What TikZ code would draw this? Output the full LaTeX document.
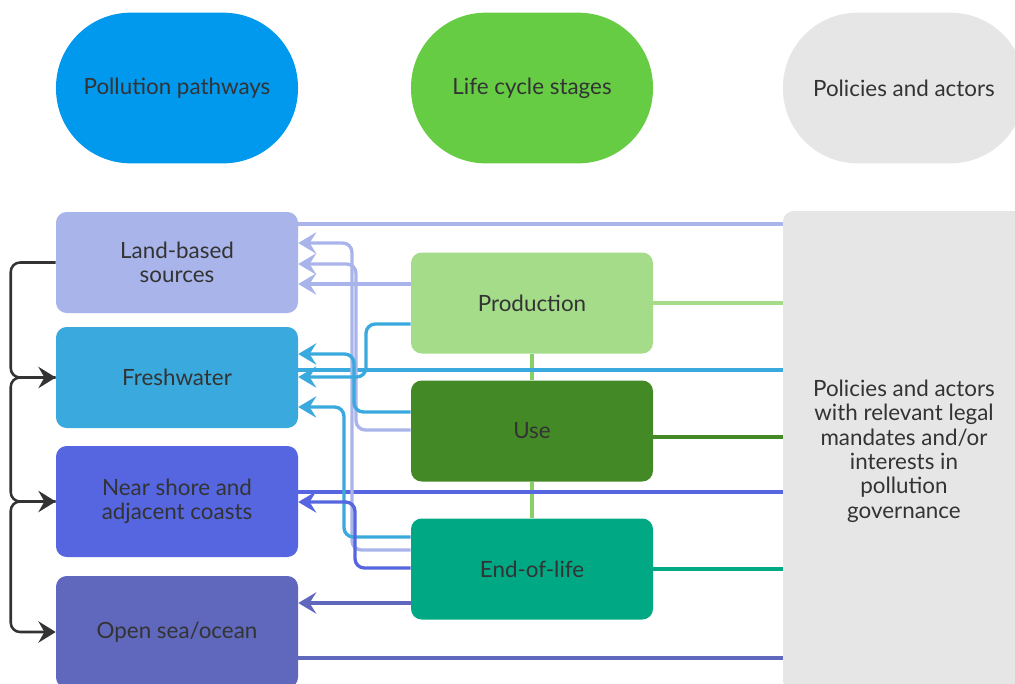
\documentclass[tikz,border=0pt]{standalone}
\usepackage{fontspec}
\setmainfont{Lato}
\usetikzlibrary{arrows.meta}
\definecolor{pathcol}{HTML}{0099EE}
\definecolor{stagecol}{HTML}{66CC44}
\definecolor{policol}{HTML}{E6E6E6}
\definecolor{landcol}{HTML}{A9B4EA}
\definecolor{freshcol}{HTML}{3AAADE}
\definecolor{nearcol}{HTML}{5566E0}
\definecolor{opencol}{HTML}{6068BD}
\definecolor{prodcol}{HTML}{A4DC8A}
\definecolor{usecol}{HTML}{438A26}
\definecolor{eolcol}{HTML}{00A884}
\definecolor{linkcol}{HTML}{88D066}
\definecolor{txtcol}{HTML}{333333}
\begin{document}
\begin{tikzpicture}[x=0.75pt,y=-0.75pt,font=\fontsize{16.8}{18.3}\selectfont]
  \tikzstyle{head}=[rounded corners=56pt,minimum width=181.5pt,minimum height=113pt,inner sep=0,text=txtcol]
  \tikzstyle{box}=[rounded corners=8pt,minimum width=181.5pt,minimum height=75.75pt,inner sep=0,align=center,text=txtcol]
  \tikzstyle{tip}=[-{Stealth[length=13.5pt,width=16pt,inset=5pt]}]
  \tikzstyle{ln}=[line width=2.5pt,rounded corners=7pt]
  \tikzstyle{brk}=[line width=1.9pt,rounded corners=7pt,draw=txtcol,-{Stealth[length=13pt,width=16pt,inset=4.5pt]}]

  \clip (0,0) rectangle (1015,683);
  \fill[white] (0,0) rectangle (1015,683);

  \node(h1)[head,fill=pathcol] at (177,88) {Pollution pathways};
  \node(h2)[head,fill=stagecol] at (532,88) {Life cycle stages};
  \node(h3)[head,fill=policol] at (904,88) {Policies and actors};

  \node(land)[box,fill=landcol] at (177,262.5) {Land-based\\sources};
  \node(fresh)[box,fill=freshcol] at (177,377.5) {Freshwater};
  \node(near)[box,fill=nearcol,minimum height=83.25pt] at (177,501.5) {Near shore and\\adjacent coasts};
  \node(sea)[box,fill=opencol,minimum height=84pt] at (177,632) {Open sea/ocean};

  \node(prod)[box,fill=prodcol] at (532,303) {Production};
  \node(use)[box,fill=usecol] at (532,431) {Use};
  \node(eol)[box,fill=eolcol] at (532,569) {End-of-life};

  \node(actors)[box,fill=policol,minimum height=360pt] at (904,451)
      {Policies and actors\\with relevant legal\\mandates and/or\\interests in\\pollution\\governance};

  \draw[ln,draw=linkcol] (prod) -- (use);
  \draw[ln,draw=linkcol] (use) -- (eol);

  \draw[brk] (land.west) -- ++(-45,0) |- (fresh.west);
  \draw[brk] (fresh.west) -- ++(-45,0) |- (near.west);
  \draw[brk] (near.west) -- ++(-45,0) |- (sea.west);

  \draw[ln,draw=landcol] (land.east |- 0,224) -- (actors.west |- 0,224);
  \draw[ln,draw=freshcol] (fresh.east |- 0,370) -- (actors.west |- 0,370);
  \draw[ln,draw=nearcol] (near.east |- 0,492) -- (actors.west |- 0,492);
  \draw[ln,draw=opencol] (sea.east |- 0,658) -- (actors.west |- 0,658);
  \draw[ln,draw=prodcol] (prod.east) -- (actors.west |- prod.east);
  \draw[ln,draw=usecol] (use.east |- 0,437) -- (actors.west |- 0,437);
  \draw[ln,draw=eolcol] (eol.east) -- (actors.west |- eol.east);

  \draw[ln,tip,draw=landcol] (prod.west |- 0,284) -- (land.east |- 0,284);
  \draw[ln,tip,draw=landcol] (use.west |- 0,430) -| (356,264) -- (land.east |- 0,264);
  \draw[ln,tip,draw=landcol] (eol.west |- 0,550) -| (352,243) -- (land.east |- 0,243);

  \draw[ln,tip,draw=freshcol] (prod.west |- 0,324) -| (366,377) -- (fresh.east |- 0,377);
  \draw[ln,tip,draw=freshcol] (use.west |- 0,412) -| (354,354) -- (fresh.east |- 0,354);
  \draw[ln,tip,draw=freshcol] (eol.west |- 0,537) -| (344,407) -- (fresh.east |- 0,407);

  \draw[ln,tip,draw=nearcol] (eol.west |- 0,568) -| (355,502) -- (near.east |- 0,502);
  \draw[ln,tip,draw=opencol] (eol.west |- 0,603) -- (sea.east |- 0,603);
\end{tikzpicture}
\end{document}
